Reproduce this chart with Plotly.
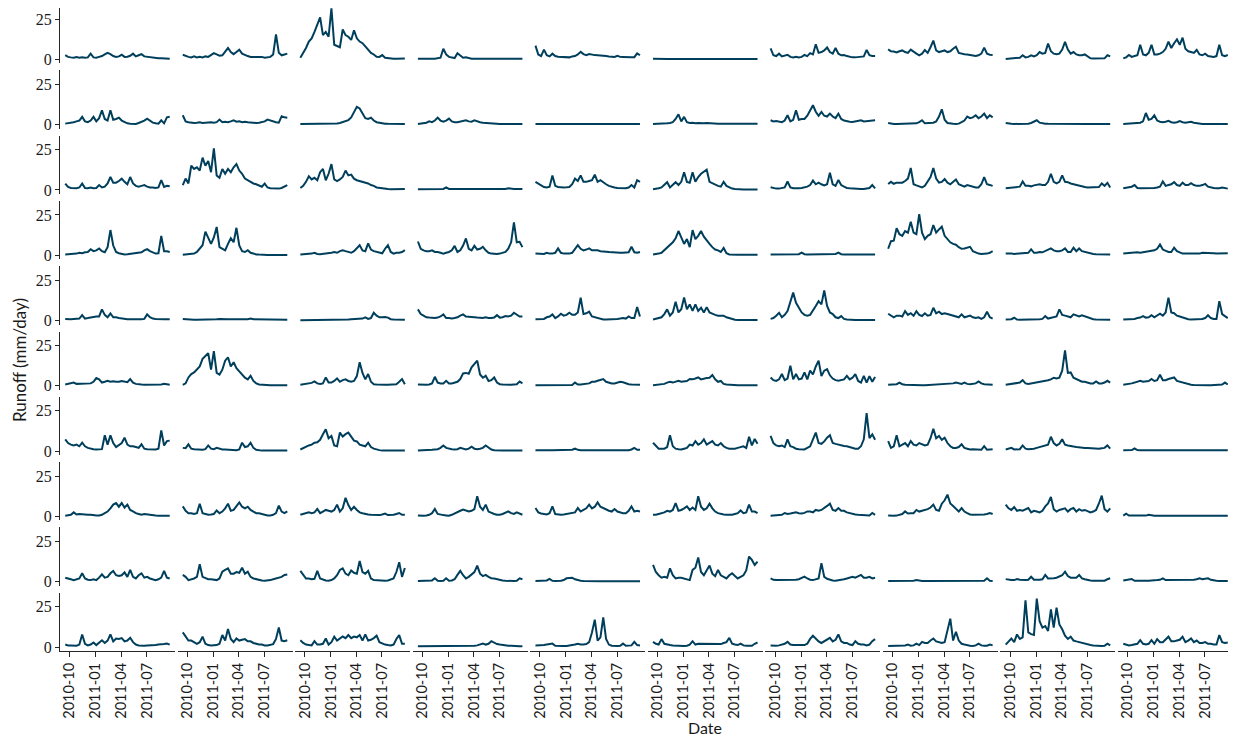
import pandas as pd
import plotly.graph_objects as go
from plotly.subplots import make_subplots

# ---------------- data ----------------
dates = pd.date_range("2010-09-15", periods=38, freq="10D")
tick_dates = ["2010-10-01", "2011-01-01", "2011-04-01", "2011-07-01"]
tick_labels = ["2010-10", "2011-01", "2011-04", "2011-07"]
y_ticks = [0, 25]
y_tick_labels = ["0", "25"]

runoff_row01 = [
    [2.6,1.5,1.2,1.0,1.4,1.0,1.2,0.9,1.2,3.5, 1.2,1.0,1.5,2.0,3.0,4.0,3.2,2.0,1.5,1.8, 2.8,1.5,1.6,2.2,3.5,1.8,2.5,3.2,1.8,1.5, 1.2,1.0,0.8,0.7,0.6,0.5,0.4,0.4],
    [2.8,2.0,1.5,1.2,1.8,1.2,1.5,1.2,1.8,1.5, 2.5,3.8,3.0,2.2,2.5,4.5,7.0,4.5,3.2,4.5, 6.0,3.5,2.5,2.0,1.5,1.5,1.2,1.2,1.5,1.0, 1.2,1.5,3.0,15.5,4.0,2.5,3.0,3.5],
    [1.0,4.0,7.0,11.0,13.0,17.0,21.0,26.0,15.0,17.0, 14.0,31.6,9.0,8.0,7.5,18.5,15.0,14.0,12.0,18.0, 13.0,11.0,10.0,8.0,6.0,4.0,3.0,1.6,1.5,2.7, 1.0,0.7,0.5,0.4,0.4,0.4,0.4,0.5],
    [0.4,0.3,0.3,0.3,0.4,0.3,0.3,0.5,1.0,6.5, 3.0,1.5,1.0,0.8,3.8,2.5,1.0,1.2,0.6,0.4, 0.3,0.3,0.3,0.3,0.3,0.3,0.3,0.3,0.3,0.3, 0.3,0.3,0.3,0.3,0.3,0.3,0.3,0.3],
    [8.5,3.0,2.0,6.0,2.5,1.8,3.5,2.0,1.6,1.5, 1.5,1.5,1.2,1.8,2.0,3.0,4.6,3.2,2.6,3.3, 2.8,2.6,2.5,2.2,2.0,2.0,1.8,1.6,1.5,2.2, 1.5,1.4,1.2,1.2,1.2,1.3,3.7,2.5],
    [0.3,0.2,0.2,0.2,0.2,0.2,0.2,0.2,0.2,0.2, 0.2,0.2,0.2,0.2,0.2,0.2,0.2,0.2,0.2,0.2, 0.2,0.2,0.2,0.2,0.2,0.2,0.2,0.2,0.2,0.2, 0.2,0.2,0.2,0.2,0.2,0.2,0.2,0.2],
    [6.8,2.5,2.0,3.5,1.8,2.5,2.8,1.5,1.2,1.5, 1.2,1.5,2.7,2.0,3.8,3.0,9.3,4.0,4.5,5.5, 7.4,4.5,3.5,7.0,3.5,2.5,2.7,2.0,1.5,1.2, 1.2,1.5,1.5,1.8,5.8,2.5,2.0,2.0],
    [6.2,5.0,4.8,4.2,5.0,5.5,4.5,4.0,6.0,4.5, 3.5,2.5,3.5,5.8,4.0,7.5,11.6,5.5,4.5,5.0, 5.5,4.5,5.0,6.5,7.8,4.0,3.5,3.2,3.0,2.8, 2.4,2.0,2.5,3.5,7.2,3.5,2.8,2.7],
    [0.2,0.3,0.3,0.4,0.5,1.0,2.5,1.2,1.5,2.5, 1.8,2.5,4.5,3.5,4.0,9.8,5.0,3.5,3.2,3.5, 6.0,10.8,6.0,3.5,4.5,3.0,2.5,2.5,3.0,1.5, 0.6,0.5,0.5,0.5,0.5,0.6,2.5,1.8],
    [0.6,1.2,2.7,1.5,2.0,2.5,9.0,3.0,2.5,4.0, 9.0,3.0,3.0,3.5,4.5,6.5,11.0,7.0,10.0,12.4, 9.0,13.4,6.5,5.0,4.5,4.0,5.8,3.0,2.5,3.5, 2.0,1.6,1.5,2.0,9.0,2.5,2.0,2.7],
]

runoff_row02 = [
    [0.6,0.8,1.0,1.5,2.0,2.5,4.8,2.0,1.5,2.5, 4.8,2.0,4.0,8.9,3.5,2.5,8.9,3.0,3.5,4.3, 2.5,1.5,0.8,0.6,0.4,0.4,1.0,1.6,2.5,3.7, 2.5,1.2,0.8,0.6,2.7,0.8,4.5,4.8],
    [5.8,2.0,1.5,1.2,1.0,1.2,1.5,1.0,1.2,1.0, 1.5,1.2,1.5,3.1,1.5,1.8,1.5,2.0,2.7,1.8, 2.0,1.5,1.8,1.5,1.2,1.2,1.0,1.2,1.5,2.0, 3.1,2.5,2.0,1.5,1.2,5.2,4.5,4.3],
    [0.3,0.3,0.3,0.4,0.4,0.5,0.5,0.6,0.5,0.6, 0.5,0.5,0.6,0.7,1.0,1.5,2.0,2.8,4.5,8.0, 11.0,10.0,6.8,4.0,3.5,4.3,2.5,1.5,1.2,0.8, 0.6,0.5,0.4,0.3,0.3,0.3,0.3,0.3],
    [0.4,0.6,0.8,1.2,2.0,1.5,2.5,4.3,2.5,1.8, 2.5,3.7,2.0,1.5,1.5,1.8,2.0,2.7,2.0,1.8, 2.7,2.0,1.5,1.2,1.0,0.8,0.6,0.5,0.4,0.3, 0.3,0.3,0.3,0.3,0.3,0.3,0.3,0.3],
    [0.3,0.3,0.3,0.3,0.3,0.3,0.3,0.3,0.4,0.4, 0.5,0.5,0.6,0.5,0.5,0.4,0.4,0.3,0.3,0.3, 0.3,0.3,0.3,0.3,0.3,0.3,0.3,0.3,0.3,0.3, 0.3,0.3,0.3,0.3,0.3,0.3,0.3,0.3],
    [0.4,0.4,0.5,0.5,0.6,0.8,1.0,1.5,3.5,6.4, 2.0,4.8,1.5,1.0,1.2,0.8,1.0,0.8,0.8,1.0, 0.8,0.7,0.8,0.6,0.6,0.5,0.5,0.6,0.5,0.5, 0.5,0.4,0.6,0.4,0.5,0.6,0.8,0.6],
    [2.7,2.0,2.2,1.8,1.5,2.5,5.8,2.0,3.0,8.9, 3.0,3.5,3.5,5.5,8.9,12.0,8.0,5.5,7.9,5.5, 5.0,6.8,5.0,4.0,6.8,3.5,2.5,2.0,1.8,1.6, 2.0,2.4,2.7,2.0,2.2,2.5,2.5,2.7],
    [1.0,0.5,0.4,0.4,0.4,0.5,0.5,0.5,0.6,0.6, 0.8,1.5,2.7,0.8,0.8,1.0,1.2,2.0,5.0,9.5, 3.0,1.0,0.6,0.5,0.4,0.6,1.5,2.5,5.0,4.0, 4.5,5.8,4.0,5.0,6.8,4.0,5.8,4.5],
    [1.0,0.6,0.5,0.4,0.4,0.4,0.5,0.5,0.6,1.0, 2.0,2.7,1.2,0.8,0.6,0.5,0.5,0.5,0.4,0.4, 0.4,0.4,0.4,0.4,0.4,0.4,0.4,0.8,0.5,0.4, 0.3,0.3,0.3,0.3,0.3,0.3,0.3,0.3],
    [0.3,0.5,0.8,1.0,0.8,1.0,1.2,2.0,7.2,3.0, 3.5,5.8,2.5,1.8,1.5,1.8,2.3,1.5,1.2,1.5, 2.2,1.5,1.2,1.5,1.8,1.2,0.8,0.5,0.4,0.3, 0.3,0.3,0.3,0.3,0.3,0.3,0.3,0.3],
]

runoff_row03 = [
    [3.9,1.8,1.2,1.0,1.0,1.5,4.0,1.2,1.0,1.5, 1.0,1.2,3.0,1.5,2.0,4.0,8.0,4.5,4.5,5.5, 7.0,5.0,3.5,8.0,4.0,2.5,2.0,2.5,3.0,2.0, 1.5,1.5,1.2,1.5,6.0,1.8,2.5,2.2],
    [2.9,7.0,4.0,15.0,13.0,14.0,12.0,20.0,15.0,18.0, 11.0,25.8,9.0,7.5,13.0,10.0,13.0,11.0,14.0,16.0, 12.0,10.0,7.0,6.0,4.5,4.0,3.5,2.5,2.0,3.9, 1.5,1.0,0.8,0.6,0.8,1.2,2.0,3.0],
    [1.2,2.5,5.0,8.5,6.5,7.5,6.0,11.0,13.0,6.0, 10.0,16.0,6.5,5.5,6.5,8.0,12.0,9.0,9.5,7.0, 6.0,5.5,5.0,4.5,4.0,3.0,2.5,1.5,1.2,0.8, 0.6,0.5,0.4,0.4,0.4,0.4,0.4,0.5],
    [0.4,0.4,0.4,0.4,0.5,0.5,0.5,0.5,0.6,0.6, 1.5,0.6,0.6,0.5,0.5,0.5,0.5,0.5,0.5,0.5, 0.5,0.5,0.5,0.5,0.5,0.5,0.5,0.5,0.5,0.5, 0.5,0.6,1.0,0.6,0.5,0.5,0.5,0.5],
    [5.0,4.0,2.5,1.8,1.5,2.0,9.0,2.5,1.8,1.5, 1.5,1.6,1.8,3.5,7.0,5.5,9.0,5.0,5.0,5.5, 6.0,9.5,5.0,6.0,4.5,3.5,2.5,1.8,1.5,1.2, 1.0,1.0,1.0,1.5,3.0,1.5,6.0,5.0],
    [0.4,0.5,1.0,1.5,3.0,4.8,1.5,3.0,4.8,3.0, 5.0,11.0,5.0,4.5,11.0,5.0,8.0,10.0,11.0,12.5, 5.0,4.0,3.5,2.5,2.0,5.0,2.5,1.5,0.8,0.5, 0.3,0.3,0.3,0.3,0.3,0.3,0.3,0.3],
    [1.6,1.0,0.8,0.8,1.0,1.5,5.2,1.5,1.0,0.8, 1.0,1.2,1.5,2.0,3.0,5.8,3.5,4.5,3.5,2.8, 3.5,10.6,3.5,2.5,6.2,3.0,2.0,1.2,1.0,0.8, 0.6,0.6,0.6,0.6,0.8,1.2,3.0,1.0],
    [3.7,5.0,3.8,4.5,4.5,4.5,5.5,7.0,13.6,3.5, 2.8,2.0,1.5,2.5,5.0,8.0,13.6,7.0,4.5,5.0, 6.8,4.5,3.5,5.0,6.4,3.5,2.5,2.0,3.0,2.5, 1.8,1.5,1.5,3.5,7.9,3.5,3.0,2.5],
    [1.0,1.2,1.5,1.8,1.8,2.0,5.2,2.5,2.5,2.2, 2.8,3.0,3.5,3.0,3.0,5.0,10.0,5.0,4.0,5.0, 9.0,5.0,4.8,4.0,3.5,3.0,2.5,2.0,1.8,1.5, 1.5,1.5,1.5,1.8,4.0,2.5,4.4,1.5],
    [1.0,1.2,1.5,2.0,3.0,1.2,1.0,1.0,1.0,1.0, 1.2,1.2,1.5,2.0,5.2,2.5,3.0,3.5,4.8,3.0, 2.5,4.5,3.0,3.0,4.2,3.0,2.5,2.5,3.0,3.7, 2.0,1.5,1.2,1.0,1.0,1.5,1.0,0.8],
]

runoff_row04 = [
    [0.4,0.5,0.6,0.8,1.0,1.5,1.2,1.8,2.0,3.7, 2.5,3.0,4.2,2.5,1.8,5.0,15.6,6.0,2.0,1.2, 0.8,0.5,0.6,0.8,1.0,1.2,1.5,1.8,3.0,3.7, 2.5,1.5,1.0,1.2,12.0,2.5,2.5,2.0],
    [0.3,0.4,0.6,0.8,1.0,2.0,4.0,6.2,14.6,10.4, 7.0,11.0,17.5,5.0,4.0,3.0,7.0,10.5,8.0,17.0, 6.0,2.5,2.0,3.1,1.5,0.8,0.5,0.4,0.2,0.2, 0.2,0.2,0.2,0.2,0.2,0.2,0.2,0.2],
    [0.4,0.5,0.5,0.8,1.0,1.5,0.8,0.6,0.8,1.0, 1.0,1.5,2.0,1.5,2.5,3.1,2.5,2.0,1.5,2.5, 4.5,6.2,3.0,2.5,7.3,3.5,2.5,2.0,1.5,1.2, 4.0,6.2,2.0,1.0,1.5,1.5,2.0,3.1],
    [8.5,4.0,3.0,2.5,2.5,3.0,2.0,2.0,1.5,1.0, 1.5,2.0,3.0,5.8,2.0,3.0,6.0,10.4,4.0,3.0, 5.8,3.5,4.0,5.2,3.0,1.5,1.0,0.8,0.8,1.0, 1.5,2.0,4.0,8.0,20.4,8.0,8.3,5.0],
    [1.0,0.8,0.6,0.8,1.5,1.0,1.0,1.5,4.2,1.5, 1.0,0.8,1.0,1.5,4.0,6.2,4.0,3.0,3.5,4.2, 3.0,3.0,3.0,2.5,2.5,2.2,2.0,1.8,1.5,1.5, 1.5,1.5,1.5,1.8,5.2,1.8,1.5,2.0],
    [0.4,0.6,1.0,1.5,3.0,5.0,6.0,8.0,10.5,15.0, 11.0,7.0,10.0,5.0,15.6,10.0,12.0,15.0,11.5,9.0, 7.0,5.0,3.5,3.0,2.0,4.5,1.2,0.5,0.3,0.3, 0.3,0.3,0.3,0.3,0.3,0.3,0.3,0.3],
    [0.4,0.4,0.4,0.4,0.4,0.4,0.4,0.4,0.4,0.5, 0.6,1.6,0.6,0.4,0.4,0.4,0.4,0.4,0.4,0.4, 0.4,0.4,0.5,0.8,1.6,0.6,0.4,0.4,0.4,0.4, 0.4,0.4,0.4,0.4,0.4,0.4,0.4,0.4],
    [4.0,8.7,9.0,16.7,13.0,12.0,15.0,14.0,20.8,14.0, 13.0,25.4,14.0,10.0,12.0,13.0,18.7,14.0,16.0,17.7, 12.0,10.0,8.0,7.0,6.5,5.0,4.0,4.2,4.5,5.2, 2.5,1.5,1.0,0.8,0.8,1.0,1.5,2.5],
    [1.0,1.2,1.0,0.8,1.0,1.0,1.0,1.2,1.5,3.7, 1.5,1.5,2.0,1.8,2.5,3.5,4.2,3.0,2.5,2.5, 3.0,4.2,2.0,2.0,4.6,2.5,4.2,2.5,2.0,1.5, 1.0,0.8,0.6,0.5,0.5,0.5,0.5,0.5],
    [1.0,1.2,1.5,1.5,1.5,1.8,1.5,1.8,2.0,2.0, 2.5,3.0,4.0,6.7,3.5,2.5,2.0,2.0,4.6,2.5, 1.5,1.0,1.0,1.0,1.2,1.2,1.2,1.0,1.5,1.5, 1.5,1.5,1.2,1.0,1.0,1.0,1.0,1.2],
]

runoff_row05 = [
    [1.0,0.8,0.8,1.0,1.0,1.2,3.3,1.2,1.5,2.0, 2.2,2.5,2.5,6.9,3.5,2.0,4.4,2.0,2.0,1.5, 1.2,1.0,0.8,0.8,0.7,0.8,0.8,0.8,1.0,3.8, 2.0,1.2,1.0,0.8,0.7,0.8,0.7,0.7],
    [1.0,0.8,0.6,0.6,0.5,0.5,0.5,0.6,0.6,0.6, 0.8,0.6,0.8,1.0,0.8,1.0,0.8,0.8,1.0,0.8, 0.8,1.0,0.8,0.8,1.2,0.8,0.8,0.6,0.6,0.6, 0.5,0.5,0.5,0.5,0.5,0.5,0.5,0.5],
    [0.2,0.2,0.2,0.2,0.2,0.2,0.2,0.2,0.2,0.3, 0.3,0.3,0.3,0.4,0.4,0.5,0.5,0.6,0.8,0.8, 1.0,0.8,1.2,2.0,1.0,1.5,4.8,3.0,2.0,2.0, 2.2,1.8,0.8,0.6,0.5,0.4,0.4,0.4],
    [6.9,4.0,3.0,2.0,1.8,1.5,1.5,1.8,2.5,3.8, 1.5,1.5,1.2,1.5,2.0,3.0,3.8,2.5,2.2,2.0, 2.0,1.8,1.8,1.5,2.0,1.5,1.5,1.8,3.3,1.8, 2.0,2.8,2.5,3.0,4.8,3.5,2.5,2.5],
    [0.8,0.8,1.0,1.0,2.0,2.5,3.8,1.5,2.5,4.2, 3.0,3.5,4.8,3.5,3.5,5.0,14.2,4.0,4.5,5.5, 2.5,2.0,1.2,0.8,0.6,0.6,0.6,0.8,0.8,1.0, 1.2,1.5,1.2,2.5,1.5,1.5,8.3,2.5],
    [0.6,1.0,1.2,2.0,4.0,6.9,3.0,5.0,11.7,5.0, 7.0,14.2,7.0,10.0,6.0,10.0,6.0,7.9,5.0,8.3, 5.0,4.0,3.5,3.0,2.8,3.0,2.0,1.5,0.8,0.5, 0.3,0.3,0.3,0.3,0.3,0.3,0.3,0.3],
    [1.0,1.5,3.0,4.8,2.0,3.5,5.8,11.0,17.3,11.0, 8.0,5.0,3.5,3.0,3.5,6.0,9.0,12.0,10.0,18.7, 9.0,5.0,4.0,2.0,1.5,2.7,1.0,0.6,0.4,0.3, 0.3,0.3,0.3,0.3,0.3,0.3,0.3,0.3],
    [4.2,3.0,2.0,3.0,3.0,2.5,5.8,3.5,4.5,3.0, 5.8,3.5,2.8,4.5,3.0,3.5,7.9,4.5,5.5,4.0, 4.5,4.0,3.5,3.0,2.5,2.0,3.8,2.0,2.5,3.0, 2.0,1.5,2.0,1.0,2.0,5.4,2.0,1.2],
    [0.6,0.6,0.8,1.7,0.6,0.5,0.5,0.5,0.5,0.5, 0.6,0.6,0.8,1.0,2.7,1.2,1.5,2.0,2.5,6.9, 3.5,3.0,2.5,2.0,3.8,3.0,2.5,3.2,2.5,2.0, 1.2,0.8,0.6,0.5,0.4,0.4,0.4,0.4],
    [0.6,0.6,0.6,0.8,1.0,1.5,1.8,2.7,1.8,2.0, 3.3,2.0,3.0,4.2,3.0,5.0,14.2,5.0,4.5,3.0, 2.5,1.8,1.2,0.8,0.6,0.6,0.6,0.8,1.0,1.5, 3.3,1.5,1.0,1.0,12.0,4.0,3.0,1.5],
]

runoff_row06 = [
    [0.8,1.2,1.5,2.0,1.2,1.2,1.5,1.5,1.2,1.5, 2.5,4.8,4.0,2.0,2.5,3.1,2.5,2.8,2.5,2.5, 3.0,2.5,2.2,4.2,2.0,1.2,0.8,0.8,0.7,0.7, 0.7,0.8,0.6,0.6,0.8,1.2,0.8,0.6],
    [0.5,1.5,5.2,7.3,8.3,10.4,12.0,16.7,18.7,20.2, 10.0,21.5,8.0,7.0,10.0,15.6,17.7,12.0,14.6,11.0, 9.0,7.0,5.0,4.0,6.2,3.0,1.5,0.8,0.6,0.4, 0.4,0.4,0.4,0.4,0.4,0.4,0.4,0.4],
    [0.6,0.8,1.0,1.5,1.8,2.7,1.5,1.2,1.5,5.2, 2.0,2.0,3.0,4.6,2.5,3.5,4.0,3.0,2.5,3.0, 6.0,14.6,8.0,4.0,7.3,2.5,1.0,0.8,0.6,0.6, 0.6,0.6,0.6,0.8,1.0,2.5,4.2,1.0],
    [0.8,0.6,0.6,0.6,0.8,1.5,5.6,2.0,1.5,1.5, 3.1,1.5,1.5,2.0,2.5,4.2,7.7,8.0,7.5,11.5, 13.5,15.6,7.0,5.0,6.2,3.0,3.5,5.2,2.0,1.0, 0.8,0.6,0.6,0.6,0.8,1.0,2.7,1.5],
    [0.3,0.3,0.3,0.3,0.3,0.3,0.3,0.3,0.3,0.3, 0.3,0.4,0.4,0.5,2.0,0.8,0.8,1.0,1.5,1.5, 2.5,2.5,3.1,3.5,4.2,2.5,2.0,1.5,1.5,2.0, 2.5,2.2,1.5,1.0,0.8,0.6,0.6,0.6],
    [0.3,0.5,0.8,1.0,1.2,2.0,2.5,2.0,2.5,3.1, 2.5,2.8,3.0,4.2,4.0,4.5,5.2,4.0,4.5,4.8, 5.0,6.7,4.0,2.5,3.0,1.2,0.8,0.6,0.4,0.4, 0.4,0.4,0.4,0.4,0.4,0.4,0.4,0.4],
    [5.2,3.5,3.0,4.0,7.3,3.5,4.5,12.5,4.0,7.3, 4.0,4.5,8.3,4.0,9.4,7.0,12.0,15.6,6.0,9.4, 10.4,6.5,4.5,3.5,3.2,3.5,4.0,6.2,4.0,5.0, 7.3,3.0,2.0,6.2,2.0,6.0,2.5,5.5],
    [0.6,0.6,0.8,1.0,2.0,1.0,0.6,0.5,0.4,0.4, 0.4,0.4,0.4,0.4,0.5,0.6,0.6,0.6,0.8,0.8, 1.0,1.0,1.2,1.5,2.0,1.5,1.2,2.0,1.2,1.0, 1.2,1.5,2.7,1.5,1.0,0.8,0.6,0.6],
    [0.6,0.8,1.0,1.2,1.5,2.0,3.5,1.5,1.2,1.5, 1.8,2.0,2.5,2.7,3.0,3.5,4.0,5.0,4.5,5.0, 9.4,21.9,8.0,8.3,5.0,4.0,3.0,2.5,2.5,1.8, 1.5,1.5,2.7,1.5,1.5,2.0,3.1,2.0],
    [0.6,0.8,1.0,1.5,2.0,2.5,3.1,2.5,2.8,3.0, 4.2,3.0,3.5,6.9,3.5,3.5,4.2,4.5,5.2,3.0, 2.5,1.8,1.2,0.8,0.6,0.5,0.4,0.4,0.4,0.4, 0.4,0.4,0.4,0.5,0.6,0.8,2.0,0.8],
]

runoff_row07 = [
    [7.3,5.0,4.0,3.5,4.0,3.0,5.2,3.0,2.0,1.5, 1.2,1.0,1.0,1.2,9.8,4.0,9.8,5.0,2.5,4.0, 5.0,8.3,4.0,3.0,3.0,2.5,2.0,4.2,1.5,1.2, 1.0,1.0,1.0,1.5,12.9,3.5,6.2,6.5],
    [2.0,1.8,4.2,1.5,1.2,1.0,1.0,0.8,1.2,3.5, 1.5,1.2,2.0,1.5,1.0,1.0,0.8,0.8,0.6,0.6, 1.0,5.2,2.5,3.0,5.2,2.0,0.8,0.4,0.3,0.3, 0.3,0.3,0.3,0.3,0.3,0.3,0.3,0.3],
    [1.0,2.0,3.0,3.5,4.0,5.2,5.5,7.0,10.4,13.5, 8.0,9.4,3.5,3.0,11.5,9.0,10.5,11.5,9.0,6.5, 6.0,4.0,3.5,3.0,5.2,2.5,1.5,0.8,0.6,0.3, 0.3,0.3,0.3,0.3,0.3,0.3,0.3,0.3],
    [0.4,0.4,0.5,0.5,0.6,0.8,1.0,1.2,2.0,3.5, 2.0,1.5,1.2,1.0,1.2,2.0,1.5,1.0,1.5,2.7, 1.5,1.2,1.5,2.0,3.5,2.0,1.0,0.5,0.3,0.3, 0.3,0.3,0.3,0.3,0.3,0.3,0.3,0.3],
    [0.6,0.5,0.5,0.5,0.5,0.5,0.5,0.5,0.6,0.6, 0.6,0.8,0.8,0.9,1.5,0.8,0.6,0.6,0.6,0.6, 0.8,1.0,0.6,0.5,0.5,0.4,0.4,0.4,0.4,0.4, 0.4,0.5,0.5,0.6,1.0,2.0,0.8,0.8],
    [5.2,3.5,1.5,1.5,1.5,2.5,9.8,3.0,1.5,1.2, 1.0,1.5,2.0,4.0,3.5,6.2,4.0,5.0,7.3,4.0, 5.0,6.2,4.0,3.5,5.0,3.0,2.0,1.5,1.5,1.5, 2.0,2.5,3.0,2.0,8.9,3.5,7.5,4.5],
    [9.4,5.0,3.5,3.0,3.5,2.5,7.3,3.0,2.5,1.5, 1.2,1.2,1.0,2.0,3.0,7.3,11.5,5.0,4.5,6.0, 8.3,9.8,5.0,4.5,4.0,3.5,3.2,3.0,2.5,2.0, 1.5,1.5,3.0,7.3,23.5,8.0,10.4,7.0],
    [6.2,2.0,3.0,9.8,3.0,4.0,5.0,3.0,6.2,4.0, 3.5,5.0,4.0,3.5,4.0,8.0,13.9,8.0,9.4,7.0, 8.3,5.0,3.0,2.0,2.0,2.5,4.2,2.0,1.5,1.0, 1.2,1.2,1.0,0.8,3.1,0.8,1.0,1.2],
    [1.0,1.5,2.0,1.0,1.0,1.2,3.5,1.5,1.2,1.2, 1.5,2.0,2.5,3.0,3.5,4.0,8.9,5.0,3.5,4.5, 7.3,4.0,3.5,3.0,2.8,2.5,2.2,2.0,2.0,2.0, 1.8,1.5,1.5,1.5,1.8,2.0,3.5,1.5],
    [0.5,0.5,0.6,0.6,1.6,0.6,0.5,0.5,0.5,0.5, 0.5,0.5,0.5,0.5,0.5,0.5,0.5,0.5,0.5,0.5, 0.5,0.5,0.5,0.5,0.5,0.5,0.5,0.5,0.5,0.5, 0.5,0.5,0.5,0.5,0.5,0.5,0.5,0.5],
]

runoff_row08 = [
    [0.4,0.6,1.0,2.5,1.2,1.5,1.2,1.0,1.0,1.0, 0.6,0.5,0.6,1.0,2.0,3.0,5.0,7.3,8.3,6.0, 8.3,5.5,7.3,4.0,3.1,2.0,1.5,1.0,1.5,1.2, 0.8,0.6,0.5,0.4,0.4,0.4,0.4,0.4],
    [6.2,3.5,2.0,2.0,1.5,2.0,7.9,2.0,1.5,1.0, 1.2,1.5,3.7,2.0,3.0,5.0,7.9,3.5,4.0,6.0, 8.7,6.0,5.0,6.0,4.0,3.0,2.0,2.0,1.5,1.0, 0.6,0.6,1.0,2.0,6.7,3.0,2.0,3.1],
    [1.0,1.5,2.0,2.5,2.0,2.5,4.6,2.0,3.0,4.0, 3.5,3.0,4.0,7.3,3.0,5.0,11.5,7.0,4.0,6.0, 4.0,2.5,2.0,1.5,1.2,1.0,0.8,0.6,0.8,1.2, 1.7,0.8,0.8,1.0,1.5,2.1,1.0,1.0],
    [0.6,0.4,0.4,0.6,1.0,2.0,4.6,1.5,1.0,0.8, 0.6,0.4,1.0,2.0,3.0,3.5,4.2,3.8,3.0,3.5, 4.5,12.5,6.0,4.0,7.3,3.0,2.0,1.5,1.0,1.0, 1.5,2.5,3.1,2.0,1.5,2.5,1.5,1.0],
    [5.2,2.5,1.8,1.5,1.2,2.0,6.2,1.5,1.2,1.0, 1.2,1.5,2.0,2.0,2.5,5.2,3.0,4.0,5.0,7.3, 5.0,6.0,8.7,6.0,5.0,4.0,3.5,3.0,4.6,3.0, 2.5,2.0,2.0,3.5,6.2,3.0,3.5,3.0],
    [1.0,1.0,1.5,2.0,2.5,3.5,3.0,4.0,8.3,3.5, 4.0,5.0,6.2,4.0,5.5,4.0,12.5,6.0,4.0,5.0, 7.9,5.0,3.0,2.0,1.5,1.2,1.0,1.0,1.0,1.5, 2.0,3.7,2.0,2.5,7.3,3.0,3.0,2.0],
    [0.4,0.5,0.6,0.8,1.0,2.1,1.5,1.8,2.0,2.5, 2.0,1.8,2.2,3.1,3.0,2.5,4.0,3.5,4.0,5.0, 6.5,7.9,4.0,3.5,5.2,3.5,3.5,2.5,2.0,1.5, 1.2,1.0,1.0,0.8,0.6,0.6,2.1,1.0],
    [0.6,0.4,0.4,0.5,0.8,1.5,3.1,1.8,2.0,2.0, 4.0,3.0,3.5,4.0,4.5,5.5,7.3,4.0,3.5,7.9, 10.0,13.5,8.0,6.5,5.0,3.0,5.2,3.0,2.0,1.2, 1.0,1.0,1.0,1.0,1.2,1.5,2.1,1.5],
    [7.3,5.0,4.0,5.8,3.5,4.0,3.5,4.5,5.2,2.5, 3.5,3.0,2.5,3.5,6.2,8.0,12.1,4.5,3.0,4.0, 4.5,5.0,3.0,4.5,5.2,3.0,4.5,3.5,4.0,3.0, 2.5,3.0,4.0,8.0,12.9,4.5,3.0,5.0],
    [0.5,1.7,0.5,0.5,0.4,0.4,0.4,0.4,0.5,1.0, 0.5,0.4,0.4,0.4,0.4,0.4,0.4,0.4,0.4,0.4, 0.4,0.4,0.4,0.4,0.4,0.4,0.4,0.4,0.4,0.4, 0.4,0.4,0.4,0.4,0.4,0.4,0.4,0.4],
]

runoff_row09 = [
    [2.5,1.8,1.5,1.0,1.5,2.0,5.2,2.0,1.2,1.0, 1.5,1.0,2.5,4.6,2.5,3.0,5.2,6.7,4.0,3.5, 4.0,5.8,3.0,7.3,3.0,2.0,4.0,5.2,2.5,3.0, 2.0,1.5,1.0,1.5,2.5,6.7,2.5,2.0],
    [4.2,3.0,1.0,1.5,2.0,3.0,10.8,3.0,2.0,1.5, 1.5,1.2,1.0,2.0,6.2,7.3,8.3,5.0,5.0,6.0, 5.5,8.7,5.0,6.2,3.0,2.0,1.5,1.0,0.8,0.6, 0.6,1.0,1.5,2.0,2.5,3.0,4.2,4.5],
    [6.7,4.0,2.0,2.0,1.5,1.8,6.7,2.0,1.2,0.8, 0.6,1.0,2.0,4.0,7.3,8.3,5.0,4.0,7.0,5.5, 5.0,12.9,6.0,5.0,6.7,2.0,1.0,0.8,0.6,0.6, 0.6,0.8,1.2,2.0,6.0,12.1,3.0,8.5],
    [0.4,0.4,0.4,0.4,0.5,0.8,2.1,0.6,0.5,0.6, 2.1,0.6,0.8,1.5,4.2,6.7,4.0,2.0,3.0,4.5, 6.0,10.0,5.0,3.5,4.2,3.0,2.2,2.0,1.5,1.0, 0.8,0.6,0.4,0.4,0.4,0.6,2.1,1.5],
    [0.5,0.5,0.5,0.6,0.8,1.7,0.6,0.5,0.5,0.6, 1.0,2.1,2.3,2.5,1.5,1.0,0.6,0.5,0.4,0.4, 0.3,0.3,0.3,0.3,0.3,0.3,0.3,0.3,0.3,0.3, 0.3,0.3,0.3,0.3,0.3,0.3,0.3,0.3],
    [10.4,6.0,4.0,2.5,3.0,2.5,8.3,4.0,2.0,2.5, 2.5,2.0,1.5,1.0,7.3,8.7,15.0,6.0,4.0,7.0, 10.0,5.0,3.5,7.3,4.0,3.0,2.0,4.0,5.2,3.5, 2.0,3.0,4.0,7.0,15.6,13.5,10.4,12.5],
    [2.1,1.2,1.0,1.0,1.0,1.0,1.0,1.0,1.0,1.2, 1.5,2.5,3.1,2.0,1.2,1.0,1.5,2.0,11.5,3.0, 1.8,1.2,0.8,0.6,0.8,1.0,1.5,2.0,2.5,3.1, 2.5,3.5,4.2,2.5,2.5,3.0,2.0,2.5],
    [0.4,0.4,0.4,0.4,0.4,0.4,0.4,0.4,0.4,0.6, 1.0,0.5,0.4,0.4,0.4,0.4,0.4,0.4,0.4,0.4, 0.4,0.4,0.4,0.4,0.4,0.4,0.4,0.4,0.4,0.4, 0.4,0.4,0.4,0.4,0.6,2.1,0.6,0.4],
    [1.6,1.2,1.0,1.0,1.6,1.2,1.0,1.0,1.2,3.1, 1.2,1.0,1.2,1.5,4.2,2.0,2.0,2.2,2.5,3.1, 4.0,6.2,3.5,2.5,2.5,2.5,4.2,2.0,1.5,1.0, 0.8,0.6,0.5,0.5,0.5,0.6,1.5,2.1],
    [0.8,1.0,1.2,1.7,0.6,0.5,0.5,0.5,0.6,0.6, 0.6,0.8,1.0,1.2,2.1,1.0,1.0,1.2,1.0,1.0, 1.2,1.0,1.0,1.2,1.0,1.2,1.5,2.1,1.5,1.8, 2.1,1.2,0.8,0.6,0.5,0.5,0.5,0.4],
]

runoff_row10 = [
    [1.5,1.0,1.0,0.8,0.8,1.5,7.8,2.0,1.0,1.5, 2.8,1.2,3.0,4.2,2.5,4.0,7.8,3.5,5.3,5.0, 5.5,3.5,4.0,5.7,3.0,1.5,1.0,0.8,0.8,1.0, 1.0,1.2,1.2,1.5,1.5,1.8,2.1,1.5],
    [9.1,6.4,4.0,4.0,3.0,2.0,3.0,6.4,2.0,1.2, 1.0,1.0,1.2,2.0,7.4,4.0,11.2,5.0,3.0,5.3, 4.0,4.5,4.9,3.5,3.5,2.5,2.0,1.5,1.5,1.0, 1.0,1.2,1.8,5.0,12.1,4.0,3.6,4.2],
    [4.2,2.5,1.5,1.2,1.0,3.6,1.5,1.5,2.0,5.3, 1.5,3.0,6.4,4.0,5.0,6.5,5.5,7.4,5.5,6.5, 6.0,7.4,4.0,7.8,4.0,4.5,5.5,7.0,3.0,2.0, 1.5,1.2,1.0,1.5,5.0,7.4,2.0,2.0],
    [0.5,0.5,0.5,0.5,0.5,0.5,0.5,0.6,0.5,0.5, 0.5,0.6,0.5,0.5,0.5,0.6,0.6,0.6,0.7,0.8, 0.8,1.0,1.5,2.1,1.5,2.0,3.6,2.5,1.8,1.5, 1.2,1.0,0.8,0.8,0.6,0.5,0.5,0.5],
    [1.0,1.0,1.0,1.2,1.5,1.8,2.1,0.8,0.6,0.6, 0.6,0.6,0.8,1.0,1.5,2.0,1.5,1.5,1.8,3.0, 9.0,17.0,4.0,6.0,18.4,5.0,1.5,0.8,0.6,0.6, 0.8,2.1,0.8,0.8,1.0,3.2,1.2,1.0],
    [3.2,2.0,1.5,4.9,2.0,1.5,1.2,1.0,0.8,0.8, 0.6,0.6,0.8,1.5,3.6,1.5,2.0,2.0,2.0,2.0, 2.2,2.0,2.0,2.0,1.8,2.5,3.0,5.7,2.0,1.5, 1.2,2.1,1.0,0.8,0.6,0.8,2.0,2.8],
    [1.0,0.8,0.8,1.0,1.5,2.0,3.2,1.5,1.2,1.2, 1.0,1.0,1.2,2.0,5.0,7.0,5.0,3.5,2.5,3.5, 4.5,5.7,3.5,4.5,7.8,3.5,2.5,2.5,1.5,1.2, 3.6,2.0,1.5,1.5,1.0,1.5,3.6,4.9],
    [0.6,0.6,0.6,0.6,0.8,0.8,1.0,1.5,0.8,1.0, 2.1,1.2,3.2,2.5,2.5,4.0,5.3,3.5,3.0,2.5, 3.0,9.5,17.6,4.0,9.5,4.0,2.0,1.5,1.0,0.8, 0.6,1.0,2.1,1.0,0.8,0.8,1.5,1.0],
    [1.5,3.2,5.3,3.0,7.8,5.0,6.0,29.0,9.0,8.0, 7.5,30.0,16.0,12.0,13.0,10.0,23.3,12.0,24.4,14.0, 11.0,7.0,5.0,6.4,4.0,3.5,3.0,2.5,2.0,1.5, 1.2,1.0,0.8,0.6,0.6,0.8,2.1,1.0],
    [2.0,1.5,1.0,1.2,1.5,2.0,4.2,2.0,1.5,2.0, 4.2,2.0,4.9,3.0,3.0,4.5,6.4,3.5,3.5,4.0, 4.5,6.4,3.0,4.0,5.3,3.0,4.0,2.5,2.5,3.0, 2.0,2.0,1.5,1.5,7.4,3.0,2.5,2.8],
]

grid_rows = [runoff_row01, runoff_row02, runoff_row03, runoff_row04, runoff_row05,
             runoff_row06, runoff_row07, runoff_row08, runoff_row09, runoff_row10]

# ---------------- layout constants ----------------
# The page body adds an 8px offset, so the figure is drawn 8px smaller and
# positions below are given in page pixels and converted.
OFF = 8
W, H = 1236 - OFF, 738 - OFF
ML, MR, MT, MB = 60 - OFF, 3, 0, 87
PW, PH = W - ML - MR, H - MT - MB
NR, NC = 10, 10
LINE_COLOR = "#003f5c"
AXIS_COLOR = "#262626"
SANS = "Lato, 'Open Sans', sans-serif"
SERIF = "'Liberation Serif', 'DejaVu Serif', serif"

ROW_TOP0, ROW_PITCH, ROW_H = 5.0, 65.3, 58.3      # page pixels
ZERO_BELOW_TOP, PX_PER_UNIT = 54.3, 1.612


def page_y_to_paper(py):
    fy = py - OFF
    return (MT + PH - fy) / PH


def page_x_to_paper(px):
    fx = px - OFF
    return (fx - ML) / PW


fig = make_subplots(rows=NR, cols=NC, horizontal_spacing=2.6 / PW,
                    vertical_spacing=7.0 / PH)

for r in range(NR):
    for c in range(NC):
        vals = grid_rows[r][c]
        fig.add_trace(go.Scatter(x=dates[:len(vals)], y=vals, mode="lines",
                                 line=dict(color=LINE_COLOR, width=2.0),
                                 showlegend=False, hoverinfo="skip"),
                      row=r + 1, col=c + 1)

fig.update_xaxes(range=["2010-08-27 12:00", "2011-10-08 12:00"],
                 showgrid=False, zeroline=False, showline=False,
                 showticklabels=False, ticks="", automargin=False)
fig.update_yaxes(showgrid=False, zeroline=False, showline=False,
                 showticklabels=False, ticks="", automargin=False)

for r in range(NR):
    top_page = ROW_TOP0 + r * ROW_PITCH
    bot_page = top_page + ROW_H
    zero_page = top_page + ZERO_BELOW_TOP
    top_used = max(top_page, OFF)
    y_lo = -(bot_page - zero_page) / PX_PER_UNIT
    y_hi = (zero_page - top_used) / PX_PER_UNIT
    dom = [max(0.0, page_y_to_paper(bot_page)),
           min(1.0, page_y_to_paper(top_used))]
    for c in range(NC):
        fig.update_yaxes(row=r + 1, col=c + 1, domain=dom, range=[y_lo, y_hi])

for c in range(NC):
    fig.update_xaxes(row=NR, col=c + 1, showline=True, linecolor=AXIS_COLOR,
                     linewidth=1.25, ticks="outside", ticklen=5, tickwidth=1.1,
                     tickcolor=AXIS_COLOR, tickmode="array",
                     tickvals=tick_dates, ticktext=tick_labels,
                     showticklabels=True, tickangle=-90,
                     tickfont=dict(family=SANS, size=14.5, color="#1a1a1a"))

for r in range(NR):
    fig.update_yaxes(row=r + 1, col=1, showline=True, linecolor=AXIS_COLOR,
                     linewidth=1.25, ticks="outside", ticklen=4, tickwidth=1.1,
                     tickcolor=AXIS_COLOR, tickmode="array",
                     tickvals=y_ticks, ticktext=y_tick_labels,
                     showticklabels=True,
                     tickfont=dict(family=SERIF, size=16, color="#1a1a1a"))

fig.add_annotation(text="Date", xref="paper", yref="paper",
                   x=page_x_to_paper(705), y=page_y_to_paper(727),
                   xanchor="center", yanchor="middle", showarrow=False,
                   font=dict(family=SANS, size=16, color="#1a1a1a"))
fig.add_annotation(text="Runoff (mm/day)", xref="paper", yref="paper",
                   x=page_x_to_paper(19), y=page_y_to_paper(360),
                   textangle=-90, xanchor="center", yanchor="middle",
                   showarrow=False,
                   font=dict(family=SANS, size=17, color="#1a1a1a"))

fig.update_layout(width=W, height=H,
                  margin=dict(l=ML, r=MR, t=MT, b=MB, autoexpand=False),
                  paper_bgcolor="white", plot_bgcolor="white",
                  showlegend=False)

fig.write_html("out.html")
